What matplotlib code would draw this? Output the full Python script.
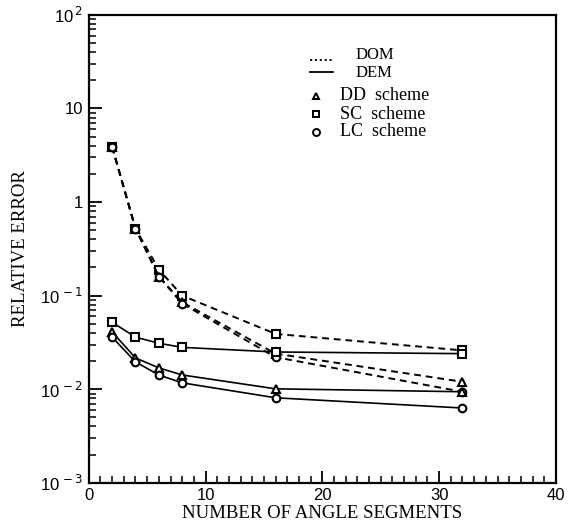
import matplotlib
matplotlib.use("Agg")
import matplotlib.pyplot as plt
from matplotlib.lines import Line2D
from matplotlib.ticker import FixedLocator, LogLocator, MultipleLocator, NullFormatter

# number of angle segments and relative errors
n_seg = [2, 4, 6, 8, 16, 32]

dom_dd = [3.9, 0.52, 0.16, 0.085, 0.024, 0.012]
dom_sc = [3.9, 0.52, 0.19, 0.10, 0.039, 0.026]
dom_lc = [3.9, 0.52, 0.16, 0.082, 0.022, 0.0094]

dem_dd = [0.041, 0.0216, 0.0169, 0.0142, 0.0101, 0.0094]
dem_sc = [0.052, 0.036, 0.031, 0.028, 0.025, 0.024]
dem_lc = [0.036, 0.0196, 0.0142, 0.0117, 0.0081, 0.0063]

y_ticks = [1e-3, 1e-2, 1e-1, 1, 10, 100]
y_labels = ["10$^{\\,-3}$", "10$^{\\,-2}$", "10$^{\\,-1}$", "1", "10", "10$^{\\,2}$"]
x_ticks = [0, 10, 20, 30, 40]

serif = "Liberation Serif"
sans = "Liberation Sans"

fig = plt.figure(figsize=(5.69, 5.30), dpi=100)
ax = fig.add_axes([0.156, 0.089, 0.821, 0.883])

mk = dict(color="black", mfc="white", mec="black", ms=5.5, mew=1.5)
dash = (0, (3.5, 2.5))

ax.plot(n_seg, dom_sc, ls=dash, lw=1.4, marker="s", **mk)
ax.plot(n_seg, dom_dd, ls=dash, lw=1.4, marker="^", **mk)
ax.plot(n_seg, dom_lc, ls=dash, lw=1.4, marker="o", **mk)

ax.plot(n_seg, dem_sc, ls="-", lw=1.2, marker="s", **mk)
ax.plot(n_seg, dem_dd, ls="-", lw=1.2, marker="^", **mk)
ax.plot(n_seg, dem_lc, ls="-", lw=1.2, marker="o", **mk)

ax.set_yscale("log")
ax.set_xlim(0, 40)
ax.set_ylim(1e-3, 1e2)

ax.yaxis.set_major_locator(FixedLocator(y_ticks))
ax.set_yticklabels(y_labels, fontfamily=sans, fontsize=12)
ax.yaxis.set_minor_locator(LogLocator(base=10, subs=range(2, 10), numticks=20))
ax.yaxis.set_minor_formatter(NullFormatter())

ax.set_xticks(x_ticks)
ax.set_xticklabels([str(t) for t in x_ticks], fontfamily=sans, fontsize=12)
ax.xaxis.set_minor_locator(MultipleLocator(1))

ax.tick_params(which="major", direction="in", length=9, width=1.3, top=False, right=False, pad=4)
ax.tick_params(which="minor", direction="in", length=5, width=1.1, top=False, right=False)

for sp in ax.spines.values():
    sp.set_linewidth(1.6)

ax.set_xlabel("NUMBER OF ANGLE SEGMENTS", fontfamily=serif, fontsize=13.5, labelpad=1)
ax.set_ylabel("RELATIVE ERROR", fontfamily=serif, fontsize=13.5, labelpad=8)

# hand-made legend in the upper middle
tr = ax.transAxes
ax.add_line(Line2D([0.473, 0.522], [0.904, 0.904], transform=tr, color="black", lw=1.3, ls=(0, (1.2, 1.5))))
ax.add_line(Line2D([0.473, 0.522], [0.878, 0.878], transform=tr, color="black", lw=1.3))
ax.text(0.572, 0.915, "DOM", transform=tr, fontfamily=serif, fontsize=12, va="center")
ax.text(0.572, 0.876, "DEM", transform=tr, fontfamily=serif, fontsize=12, va="center")

for yy, m, lab in [(0.827, "^", "DD  scheme"), (0.788, "s", "SC  scheme"), (0.750, "o", "LC  scheme")]:
    ax.plot([0.486], [yy], transform=tr, ls="none", marker=m, ms=5, mfc="white", mec="black", mew=1.4)
    ax.text(0.537, yy, lab, transform=tr, fontfamily=serif, fontsize=13, va="center")

fig.savefig("out.png", dpi=100)
